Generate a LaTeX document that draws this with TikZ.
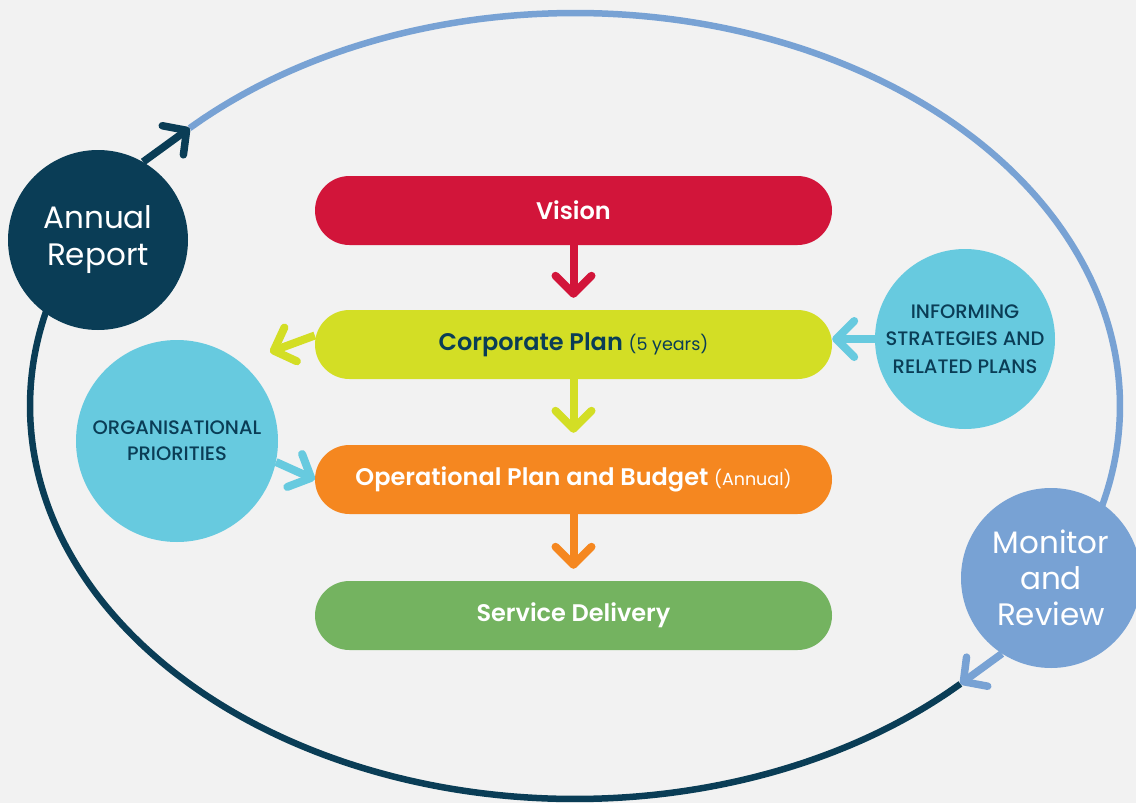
\documentclass[tikz,border=0pt]{standalone}
\usepackage{fontspec}
\setmainfont{Poppins}[BoldFont={Poppins SemiBold}]
\newfontfamily\medfont{Poppins Medium}
\usepackage{tikz}
\usetikzlibrary{arrows.meta}

\definecolor{paper}{HTML}{F2F2F2}
\definecolor{navy}{HTML}{0A3D56}
\definecolor{ringblue}{HTML}{78A2D4}
\definecolor{visred}{HTML}{D2153A}
\definecolor{lime}{HTML}{D3DE25}
\definecolor{opsorange}{HTML}{F58720}
\definecolor{leaf}{HTML}{74B360}
\definecolor{sky}{HTML}{67CADF}

\newcommand{\paren}[1]{{\mdseries\fontsize{17.5}{20}\selectfont #1}}

\tikzset{
    bar/.style={rounded corners=34.5pt, minimum width=517pt, minimum height=69pt, inner sep=0pt,
        font=\bfseries\fontsize{24}{28}\selectfont},
    circ/.style={circle, minimum size=180pt, inner sep=0pt, align=center},
    flow/.style={line width=8pt, -{Straight Barb[length=18pt,width=36pt,round]}},
    ring/.style={line width=6.5pt},
}

\begin{document}
\begin{tikzpicture}[x=1pt,y=-1pt]
            \fill[paper] (0,0) rectangle (1136,803);
            \useasboundingbox (0,0) rectangle (1136,803);
            % \draw[step=50,color=gray!40] (0,0) grid (1136,803);
            \draw[ring,navy] plot[domain=-45:-209,samples=90,smooth] ({575+545*cos(\x)},{406-393*sin(\x)});
            \draw[ring,ringblue] plot[domain=135:-29,samples=90,smooth] ({575+545*cos(\x)},{406-393*sin(\x)});
            \coordinate (tipA) at ({575+545*cos(135)},{406-393*sin(135)});
            \coordinate (tipM) at ({575+545*cos(-45)},{406-393*sin(-45)});
            \coordinate (cpTip) at (270,352);

            \node[circ,fill=navy,text=white,font=\fontsize{31}{37}\selectfont] (annual) at (98,240) {Annual\\Report};
            \node[circ,fill=ringblue,text=white,font=\fontsize{31}{36}\selectfont] (monitor) at (1051,578) {Monitor\\and\\Review};
            \node[circ,fill=sky,text=navy,font=\medfont\fontsize{19.5}{27.5}\selectfont] (inform) at (965,339) {INFORMING\\STRATEGIES AND\\RELATED PLANS};
            \node[circ,fill=sky,text=navy,minimum size=202pt,font=\medfont\fontsize{19.5}{26}\selectfont] (org) at (177,441) {ORGANISATIONAL\\PRIORITIES};

            \foreach \y/\name/\col/\tcol/\txt in {210.5/vision/visred/white/Vision,
                344.5/corp/lime/navy/{Corporate Plan \paren{(5 years)}},
                479.5/oper/opsorange/white/{Operational Plan and Budget \paren{(Annual)}},
                615.5/serv/leaf/white/Service Delivery}{
                \node[bar,fill=\col,text=\tcol,name=\name] at (573.5,\y) {\txt};
            }
            \foreach \from/\to/\col in {vision/corp/visred,corp/oper/lime,oper/serv/opsorange} {
                \draw[flow,\col,shorten >=12pt] (\from)--(\to) ;
            }
            \draw[flow,lime] ([yshift=9pt]corp.west) -- (cpTip);
            \draw[flow,sky] (inform) -- (inform -| corp.east);
            \draw[flow,sky] (org.-12) -- (oper.west);
            \draw[ring,navy,line width=7.5pt,-{Straight Barb[length=17pt,width=36pt,round]}] (annual.60) -- (tipA);
            \draw[ring,ringblue,line width=7.5pt,-{Straight Barb[length=17pt,width=36pt,round]}] (monitor.237) -- (tipM);
        \end{tikzpicture}
\end{document}
